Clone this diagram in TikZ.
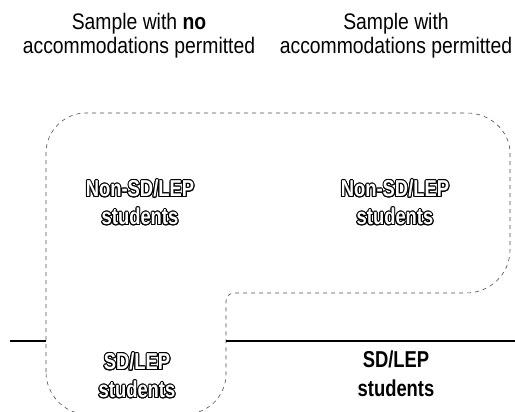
\documentclass[tikz,border=0pt]{standalone}
\usepackage{fontspec}
\setmainfont{Liberation Sans}[FakeStretch=0.86]
\newfontfamily\boxfont{Liberation Sans}[FakeStretch=0.8]
\usepackage[copies]{contour}
\contourlength{1pt}
\begin{document}
\begin{tikzpicture}[x=1pt,y=-1pt,
  title/.style={align=center,inner sep=0pt,font=\fontsize{22.5}{24}\selectfont},
  hollow/.style={align=center,inner sep=0pt,text=white,font=\boxfont\bfseries\fontsize{23}{28}\selectfont},
  plain/.style={align=center,inner sep=0pt,font=\boxfont\bfseries\fontsize{23}{29}\selectfont},
  region/.style={draw=black!70,line width=0.6pt,dash pattern=on 4pt off 4pt},
  rule/.style={draw=black,line width=1.4pt}]
\useasboundingbox (0,0) rectangle (515,412);
\node[title] (tl) at (139,36) {Sample with \textbf{no}\\accommodations permitted};
\node[title] (tr) at (396,36) {Sample with\\accommodations permitted};
% dashed region
\draw[region] (46,372) -- (46,153) .. controls (46,131) and (64,113) .. (86,113)
  -- (467,113) .. controls (490,113) and (510,131) .. (510,153)
  -- (510,250) .. controls (510,274) and (490,293) .. (466,293)
  -- (234,293) .. controls (229.6,293) and (226,296.6) .. (226,301)
  -- (226,374) .. controls (226,396) and (208,414) .. (186,414)
  -- (86,414) .. controls (64,414) and (46,394) .. (46,372) -- cycle;
\coordinate (la) at (10,341);
\coordinate (lb) at (46,341);
\coordinate (ra) at (226,341);
\coordinate (rb) at (515,341);
\draw[rule] (la) -- (lb);
\draw[rule] (ra) -- (rb);
\node[hollow] (n1) at (140,203) {\contour{black}{Non-SD/LEP}\\\contour{black}{students}};
\node[hollow] (n2) at (395,203) {\contour{black}{Non-SD/LEP}\\\contour{black}{students}};
\node[hollow] (s1) at (137,376) {\contour{black}{SD/LEP}\\\contour{black}{students}};
\node[plain] (s2) at (396,374) {SD/LEP\\students};
\end{tikzpicture}
\end{document}
